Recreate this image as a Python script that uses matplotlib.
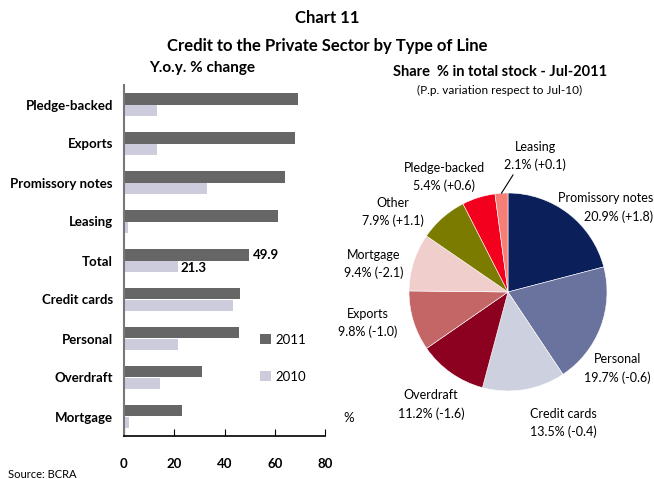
import matplotlib
matplotlib.use("Agg")
import matplotlib.pyplot as plt
import numpy as np

plt.rcParams['font.family'] = ['Lato', 'DejaVu Sans']

# bar chart data (y.o.y. % change)
categories = ['Pledge-backed', 'Exports', 'Promissory notes', 'Leasing', 'Total',
              'Credit cards', 'Personal', 'Overdraft', 'Mortgage']
yoy_2011 = [69.1, 68.1, 64.1, 61.3, 49.9, 46.2, 45.8, 31.0, 23.1]
yoy_2010 = [13.1, 13.1, 33.0, 1.6, 21.3, 43.4, 21.5, 14.3, 2.0]

# pie data (share % in total stock, p.p. variation)
pie_labels = ['Promissory notes', 'Personal', 'Credit cards', 'Overdraft', 'Exports',
              'Mortgage', 'Other', 'Pledge-backed', 'Leasing']
pie_share = [20.9, 19.7, 13.5, 11.2, 9.8, 9.4, 7.9, 5.4, 2.1]
pie_var = ['+1.8', '-0.6', '-0.4', '-1.6', '-1.0', '-2.1', '+1.1', '+0.6', '+0.1']
pie_colors = ['#0B1F5B', '#6A729E', '#CDD0DE', '#8C0020', '#C46666',
              '#F0CECC', '#7B7B00', '#F2001E', '#F57F77']
# label placement in pie units (radius = 1), alignment
label_pos = [(1.45, 0.845), (1.095, -0.765), (0.55, -1.31), (-0.77, -1.125), (-1.40, -0.31),
             (-1.34, 0.28), (-1.15, 0.80), (-0.64, 1.15), (0.27, 1.36)]
label_ha = ['right', 'center', 'center', 'center', 'center',
            'center', 'center', 'center', 'center']

fig = plt.figure(figsize=(6.54, 4.79), dpi=100)

# ---- bar chart
ax = fig.add_axes([124/654, 1 - 436/479, 201/654, 351/479])
y = np.arange(len(categories))
h = 0.3
ax.barh(y - h/2, yoy_2011, height=h, color='#666666', label='2011')
ax.barh(y + h/2, yoy_2010, height=h, color='#CCCCDD', label='2010')
ax.set_ylim(len(categories) - 0.5, -0.5)
ax.set_xlim(0, 80)
ax.set_xticks([0, 20, 40, 60, 80])
ax.set_yticks(y)
ax.set_yticklabels(categories, fontweight='bold', fontsize=9.5)
ax.tick_params(axis='y', length=0, pad=8)
ax.tick_params(axis='x', direction='in', length=5, pad=16, labelsize=9.5)
for lab in ax.get_xticklabels():
    lab.set_fontweight('bold')
for s in ['top', 'right']:
    ax.spines[s].set_visible(False)
ax.spines['left'].set_color('#777777')
ax.spines['left'].set_linewidth(1.5)
ax.spines['bottom'].set_linewidth(1.2)

i_tot = categories.index('Total')
ax.text(yoy_2011[i_tot] + 1.3, i_tot - h/2, f'{yoy_2011[i_tot]:.1f}', va='center',
        fontsize=9.5, fontweight='bold')
ax.text(yoy_2010[i_tot] + 1.0, i_tot + h/2 + 0.05, f'{yoy_2010[i_tot]:.1f}', va='center',
        fontsize=9.5, fontweight='bold')

leg = ax.legend(loc='upper left', bbox_to_anchor=(0.62, 0.325), frameon=False,
                fontsize=9.5, handlelength=0.8, handleheight=0.8, labelspacing=1.9,
                handletextpad=0.3)
ax.text(1.09, 0.05, '%', transform=ax.transAxes, fontsize=9.5, va='center')

# ---- pie
pax = fig.add_axes([358/654, 1 - 442/479, 300/654, 300/479])
wedges, _ = pax.pie(pie_share, colors=pie_colors, startangle=90, counterclock=False,
                    radius=0.99, wedgeprops=dict(linewidth=0.4, edgecolor='white'))
pax.set_xlim(-1.5, 1.5)
pax.set_ylim(-1.5, 1.5)
pax.set_aspect('equal')
for name, share, var, (lx, ly), ha in zip(pie_labels, pie_share, pie_var, label_pos, label_ha):
    pax.text(lx, ly, f'{name}\n{share:.1f}% ({var})', ha=ha, va='center',
             multialignment=ha, fontsize=9, linespacing=1.55, clip_on=False)
# leader line for the smallest slice
lw = wedges[-1]
mid = np.deg2rad((lw.theta1 + lw.theta2) / 2)
pax.plot([0.99 * np.cos(mid), 0.05], [0.99 * np.sin(mid), 1.17], color='black', lw=0.8)

# ---- titles
fig.text(0.5, 1 - 18/479, 'Chart 11', ha='center', va='center', fontsize=12, fontweight='bold')
fig.text(0.5, 1 - 46/479, 'Credit to the Private Sector by Type of Line', ha='center',
         va='center', fontsize=12, fontweight='bold')
fig.text(202/654, 1 - 68/479, 'Y.o.y. % change', ha='center', va='center', fontsize=11,
         fontweight='bold')
fig.text(500/654, 1 - 72/479, 'Share  % in total stock - Jul-2011', ha='center',
         va='center', fontsize=10.5, fontweight='bold')
fig.text(500/654, 1 - 90/479, '(P.p. variation respect to Jul-10)', ha='center',
         va='center', fontsize=8.5)
fig.text(8/654, 1 - 475/479, 'Source: BCRA', ha='left', va='center', fontsize=8)

fig.savefig('out.png', dpi=100)
